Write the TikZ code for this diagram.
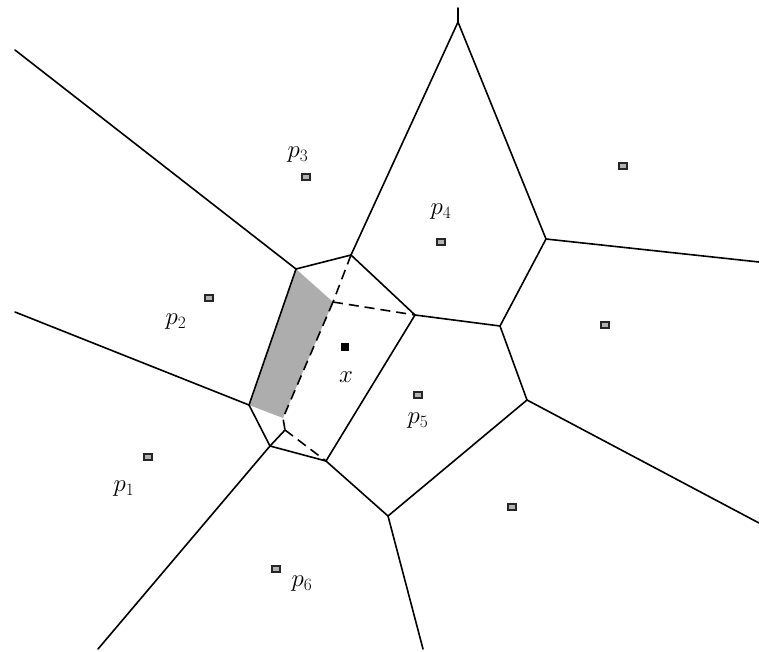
\documentclass[tikz,border=0pt]{standalone}
\begin{document}
\begin{tikzpicture}[x=1pt,y=-1pt,
  edge/.style={line width=1.6pt,line cap=round,line join=round},
  newedge/.style={line width=1.6pt,dash pattern=on 10pt off 6pt},
  site/.style={draw=black!85,fill=black!30,line width=1.2pt,minimum width=8pt,minimum height=6pt,inner sep=0pt},
  xsite/.style={draw=black,fill=black,minimum width=7pt,minimum height=7pt,inner sep=0pt},
  lab/.style={font=\fontsize{27}{31}\selectfont,inner sep=0pt}]
\useasboundingbox (0,0) rectangle (759,651);
% Voronoi vertices
\coordinate (A) at (296,269);
\coordinate (B) at (351,255);
\coordinate (C) at (415,315);
\coordinate (D) at (249,405);
\coordinate (E) at (270,446);
\coordinate (F) at (326,461);
\coordinate (G) at (500,326);
\coordinate (H) at (546,239);
\coordinate (I) at (458,22);
\coordinate (J) at (527,400);
\coordinate (K) at (388,516);
\coordinate (M) at (333,302);
\coordinate (N) at (283,418);
\coordinate (V) at (285,430);
% free ends
\coordinate (eA) at (15,50);
\coordinate (eD) at (15,312);
\coordinate (eE) at (98,649);
\coordinate (eK) at (423,649);
\coordinate (eJ) at (759,523);
\coordinate (eH) at (759,262);
\coordinate (eI) at (458,8);
% shaded region
\fill[black!32] (A) -- (M) -- (N) -- (D) -- cycle;
% solid edges
\draw[edge] (A) -- (eA);
\draw[edge] (D) -- (eD);
\draw[edge] (E) -- (eE);
\draw[edge] (K) -- (eK);
\draw[edge] (J) -- (eJ);
\draw[edge] (H) -- (eH);
\draw[edge] (I) -- (eI);
\draw[edge] (A) -- (B);
\draw[edge] (A) -- (D);
\draw[edge] (D) -- (E);
\draw[edge] (E) -- (F);
\draw[edge] (F) -- (K);
\draw[edge] (K) -- (J);
\draw[edge] (J) -- (G);
\draw[edge] (G) -- (H);
\draw[edge] (H) -- (I);
\draw[edge] (I) -- (B);
\draw[edge] (B) -- (C);
\draw[edge] (C) -- (G);
\draw[edge] (C) -- (F);
\draw[edge] (V) -- (E);
% dashed edges
\draw[newedge] (B) -- (M);
\draw[newedge] (M) -- (C);
\draw[newedge] (M) -- (N) -- (V);
\draw[newedge] (V) -- (F);
% sites
\node[site] (s3) at (306,177) {};
\node[site] (s2) at (209,298) {};
\node[site] (s4) at (441,242) {};
\node[site] (s7) at (623,166) {};
\node[site] (s8) at (605,325) {};
\node[site] (s5) at (418,395) {};
\node[site] (s1) at (148,457) {};
\node[site] (s6) at (276,569) {};
\node[site] (s9) at (512,507) {};
\node[xsite] (sx) at (345,347) {};
% labels
\node[lab] (l3) at (298,155) {$p_3$};
\node[lab] (l4) at (441,212) {$p_4$};
\node[lab] (l2) at (176,322) {$p_2$};
\node[lab] (lx) at (346,377) {$x$};
\node[lab] (l5) at (418,421) {$p_5$};
\node[lab] (l1) at (124,489) {$p_1$};
\node[lab] (l6) at (302,584) {$p_6$};
\end{tikzpicture}
\end{document}
